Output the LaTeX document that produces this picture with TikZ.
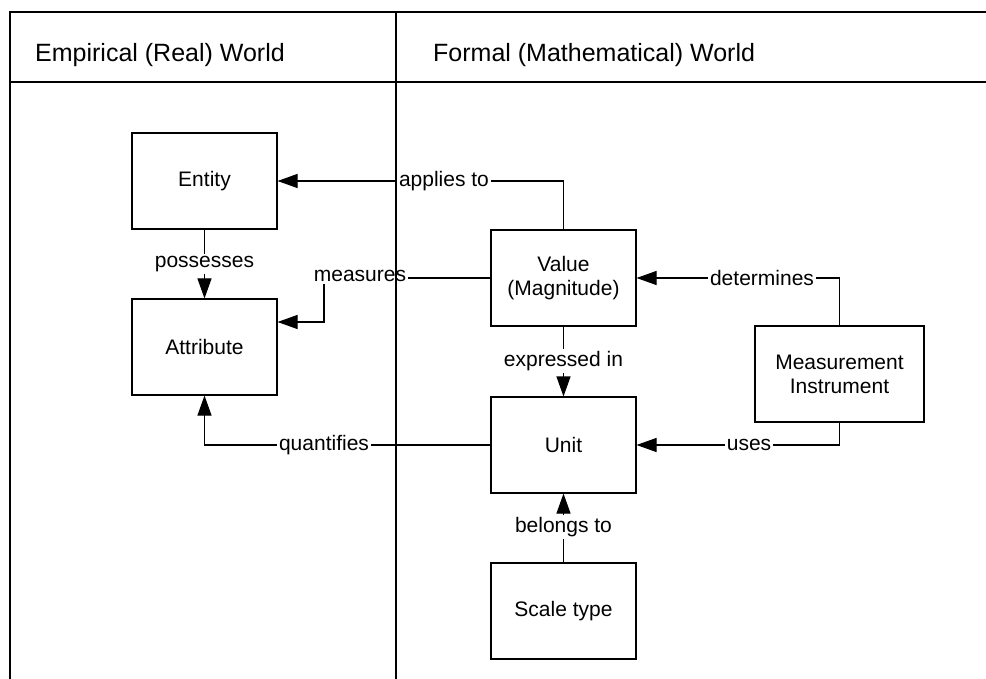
\documentclass[tikz,border=0pt]{standalone}
\usepackage{fontspec}
\setmainfont{Liberation Sans}
\usetikzlibrary{arrows.meta}
\begin{document}
\begin{tikzpicture}[x=1pt,y=-1pt,
  box/.style={draw,line width=1.1pt,minimum width=145pt,minimum height=96pt,
    align=center,font=\fontsize{21}{24}\selectfont,inner sep=2pt},
  conn/.style={line width=1.1pt},
  arr/.style={conn,-{Triangle[length=20pt,width=14pt]}},
  lbl/.style={fill=white,inner sep=2pt,font=\fontsize{21}{24}\selectfont},
  frame/.style={line width=1.1pt},
  head/.style={anchor=west,font=\fontsize{25}{28}\selectfont,inner sep=0pt}]
\useasboundingbox (0,0) rectangle (986,679);

% boxes
\node[box] (ent) at (204.5,181) {Entity};
\node[box] (att) at (204.5,347) {Attribute};
\node[box] (val) at (563.5,278) {Value\\(Magnitude)};
\node[box] (unit) at (563.5,445) {Unit};
\node[box] (scale) at (563.5,611) {Scale type};
\node[box,minimum width=169pt] (mi) at (839.5,374) {Measurement\\Instrument};

% connectors
\draw[arr] (val.north) |- (ent.east);
\draw[arr] (ent.south) -- (att.north);
\draw[arr] (val.west) -| (324,322) -- (att.east |- 324,322);
\draw[arr] (val.south) -- (unit.north);
\draw[arr] (mi.north) |- (val.east);
\draw[arr] (mi.south) |- (unit.east);
\draw[arr] (unit.west) -| (att.south);
\draw[arr] (scale.north) -- (unit.south);

% connector labels
\node[lbl] (lapp) at (444,181) {applies to};
\node[lbl] (lpos) at (204.5,264) {possesses};
\node[lbl] (lmea) at (360,276) {measures};
\node[lbl] (lexp) at (563.5,361) {expressed in};
\node[lbl] (ldet) at (762,278) {determines};
\node[lbl] (luse) at (749,445) {uses};
\node[lbl] (lqua) at (324,445) {quantifies};
\node[lbl] (lbel) at (563.5,527) {belongs to};

% swimlane frame and headings
\draw[frame] (986,12) -- (10,12) -- (10,679);
\draw[frame] (10,82) -- (986,82);
\draw[frame] (396,12) -- (396,679);
\node[head] (hemp) at (35,55) {Empirical (Real) World};
\node[head] (hfor) at (433,55) {Formal (Mathematical) World};
\end{tikzpicture}
\end{document}
